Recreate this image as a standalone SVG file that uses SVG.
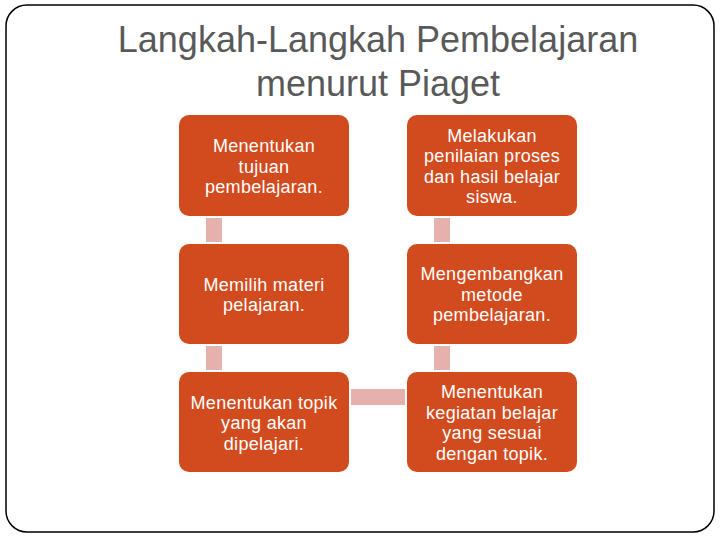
<svg xmlns="http://www.w3.org/2000/svg" width="720" height="540" viewBox="0 0 720 540">
<style>
.frame{fill:#fff;stroke:#000;stroke-width:1.5}
.title{font-family:"Liberation Sans",Arial,sans-serif;font-size:36px;fill:#595959;text-anchor:middle}
.box{fill:#D24B1E}
.lbl{font-family:"Liberation Sans",Arial,sans-serif;font-size:18px;fill:#fff;text-anchor:middle;letter-spacing:0.3px}
.conn{fill:#E6B0AD}
</style>
<rect class="frame" x="6" y="5" width="708" height="527" rx="21" ry="21"/>
<text class="title" x="378" y="52">Langkah-Langkah Pembelajaran</text>
<text class="title" x="378" y="96">menurut Piaget</text>
<g id="connectors">
<rect class="conn" x="206" y="218" width="16" height="24"/>
<rect class="conn" x="206" y="346" width="16" height="24"/>
<rect class="conn" x="351" y="389" width="54" height="16"/>
<rect class="conn" x="434" y="346" width="16" height="24"/>
<rect class="conn" x="434" y="218" width="16" height="24"/>
</g>
<g id="n1">
<rect class="box" x="179" y="115" width="170" height="101" rx="10"/>
<text class="lbl" x="264" y="152">Menentukan</text>
<text class="lbl" x="264" y="172.5">tujuan</text>
<text class="lbl" x="264" y="193">pembelajaran.</text>
</g>
<g id="n2">
<rect class="box" x="179" y="244" width="170" height="100" rx="10"/>
<text class="lbl" x="264" y="290.5">Memilih materi</text>
<text class="lbl" x="264" y="311">pelajaran.</text>
</g>
<g id="n3">
<rect class="box" x="179" y="372" width="170" height="100" rx="10"/>
<text class="lbl" x="264" y="408.5">Menentukan topik</text>
<text class="lbl" x="264" y="429">yang akan</text>
<text class="lbl" x="264" y="449.5">dipelajari.</text>
</g>
<g id="n4">
<rect class="box" x="407" y="372" width="170" height="100" rx="10"/>
<text class="lbl" x="492" y="398">Menentukan</text>
<text class="lbl" x="492" y="418.5">kegiatan belajar</text>
<text class="lbl" x="492" y="439">yang sesuai</text>
<text class="lbl" x="492" y="459.5">dengan topik.</text>
</g>
<g id="n5">
<rect class="box" x="407" y="244" width="170" height="100" rx="10"/>
<text class="lbl" x="492" y="280">Mengembangkan</text>
<text class="lbl" x="492" y="300.5">metode</text>
<text class="lbl" x="492" y="321">pembelajaran.</text>
</g>
<g id="n6">
<rect class="box" x="407" y="115" width="170" height="101" rx="10"/>
<text class="lbl" x="492" y="141.5">Melakukan</text>
<text class="lbl" x="492" y="162">penilaian proses</text>
<text class="lbl" x="492" y="182.5">dan hasil belajar</text>
<text class="lbl" x="492" y="203">siswa.</text>
</g>
</svg>
